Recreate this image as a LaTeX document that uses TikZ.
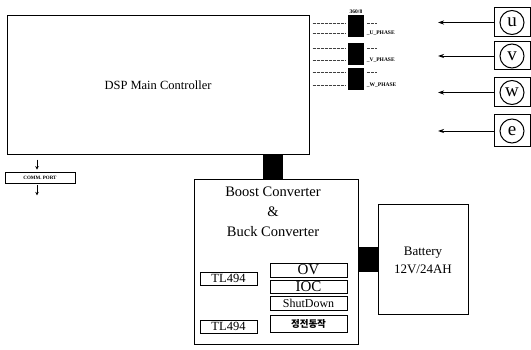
\documentclass[tikz,border=0pt]{standalone}
\usepackage{fontspec}
\setmainfont{Liberation Serif}
\newfontfamily\krfont{Noto Sans CJK KR}
\usetikzlibrary{arrows.meta,positioning}

\begin{document}
\begin{tikzpicture}[
  x=1pt, y=-1pt,
  >=Stealth,
  box/.style={draw, line width=1pt, inner sep=0pt},
  subbox/.style={draw, line width=0.9pt, inner sep=0pt, minimum width=77},
  bus/.style={draw=black, line width=20pt},
  tap/.style={draw=black!75, line width=0.5pt, dash pattern=on 3pt off 1pt},
  phaseblk/.style={fill=black, inner sep=0pt, minimum width=16, minimum height=22},
  tiny/.style={font=\fontsize{5.5}{6}\selectfont\bfseries, inner sep=0.5pt},
  sig/.style={->, line width=0.8pt, >={Stealth[length=6pt,width=4pt]}},
  cbox/.style={draw, line width=1pt, minimum width=36, minimum height=29},
  letter/.style={draw, circle, line width=1pt, inner sep=0pt, minimum size=24,
    font=\fontsize{19}{19}\selectfont}
]
\path[use as bounding box] (0,0) rectangle (531,350);

% controller and peripherals
\node[box, minimum width=302, minimum height=139,
  font=\fontsize{12.5}{14}\selectfont] (dsp) at (158,85.5) {DSP Main Controller\hspace{12pt}};
\node[box, line width=0.8pt, minimum width=70, minimum height=11,
  font=\fontsize{5}{6}\selectfont\bfseries] (comm) at (40,177.5) {COMM. PORT};
\draw[->, line width=0.6pt, >={Stealth[length=3.5pt,width=3.5pt]}]
  ([xshift=-3pt,yshift=12pt]comm.north) -- ([xshift=-3pt,yshift=2pt]comm.north);
\draw[->, line width=0.6pt, >={Stealth[length=3.5pt,width=3.5pt]}]
  ([xshift=-3pt,yshift=-2pt]comm.south) -- ([xshift=-3pt,yshift=-12pt]comm.south);

% gate drive outputs
\foreach \n/\yc/\ya/\yb/\t in {u/26/23/33/U, v/54/48/60/V, w/79/72/85/W}{
  \node[phaseblk] (blk\n) at (356,\yc) {};
  \draw[tap] ([xshift=3pt]dsp.east |- 0,\ya) -- ([xshift=-3pt]blk\n.west |- 0,\ya);
  \draw[tap] ([xshift=3pt]dsp.east |- 0,\yb) -- ([xshift=-3pt]blk\n.west |- 0,\yb);
  \draw[tap] ([xshift=3pt]blk\n.east |- 0,\ya) -- ++(10,0);
  \node[tiny, anchor=west] (lab\n) at ([xshift=2pt]blk\n.east |- 0,\yb) {\_\t\_PHASE};
}
\node[tiny, above=1pt of blku] (sens) {360/8};

% sensor inputs
\coordinate (tip) at (438,0);
\foreach \n/\yc/\h in {u/22.5/29, v/56/28, w/92.5/29, e/131/32}{
  \node[cbox, minimum height=\h] (s\n) at (512,\yc) {};
  \node[letter] at (s\n) {\n};
  \draw[sig] (s\n.west) -- (s\n.west -| tip);
}

% power stage
\node[box, minimum width=164, minimum height=165] (boost) at (276,262.5) {};
\node[align=center, font=\fontsize{14.5}{20}\selectfont] (title) at (273,212)
  {Boost Converter\\\&\\Buck Converter};
\node[subbox, minimum width=57, minimum height=13, font=\fontsize{12.5}{13}\selectfont]
  (tla) at (228.5,278.5) {TL494};
\node[subbox, minimum width=57, minimum height=13, font=\fontsize{12.5}{13}\selectfont]
  (tlb) at (228.5,326.5) {TL494};
\node[subbox, minimum height=14, font=\fontsize{15}{15}\selectfont] (ov) at (308.5,270) {OV};
\node[subbox, minimum height=13, font=\fontsize{15}{15}\selectfont] (ioc) at (308.5,286.5) {IOC};
\node[subbox, minimum height=14, font=\fontsize{12}{12}\selectfont] (sd) at (308.5,303) {ShutDown};
\node[subbox, minimum height=17, font=\krfont\fontsize{9.5}{10}\selectfont\bfseries] (op) at (308.5,323.5) {정전동작};

\node[box, minimum width=90, minimum height=110, align=center,
  font=\fontsize{13}{18}\selectfont] (bat) at (423,260) {Battery\\12V/24AH};

% power buses
\draw[bus] ([xshift=-3pt]boost.north) -- ([xshift=-3pt]boost.north |- dsp.south);
\draw[bus, line width=25pt] (bat.west) -- (bat.west -| boost.east);
\end{tikzpicture}
\end{document}
